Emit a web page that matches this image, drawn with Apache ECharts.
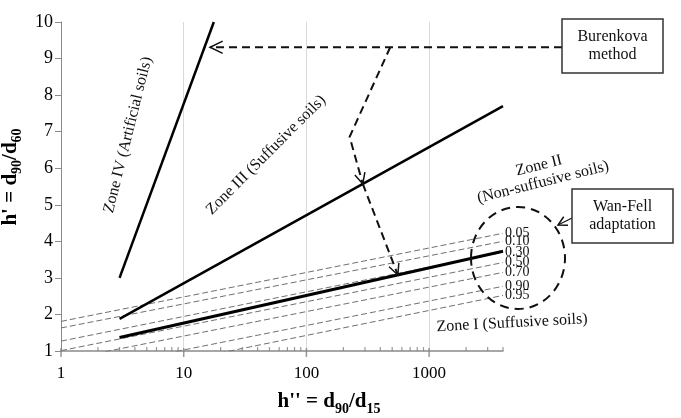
<!DOCTYPE html>
<html>
<head>
<meta charset="utf-8">
<script src="https://cdn.jsdelivr.net/npm/echarts@6/dist/echarts.min.js"></script>
<style>
  html, body { margin: 0; padding: 0; background: #fff; }
  #chart { width: 681px; height: 418px; }
</style>
</head>
<body>
<div id="chart"></div>
<script>
// h'' = d90/d15 on a log axis, h' = d90/d60 on a linear one
const xMin = 1, xMax = 4000;
const majorTicks = [1, 10, 100, 1000];
const minorSteps = [2, 3, 4, 5, 6, 7, 8, 9];
const gridX = [10, 100, 1000];

// zone boundaries (solid)
const zone4X = [3, 17.6];
const zone4Y = [3.0, 10.0];
const zone3X = [3, 4000];
const zone3Y = [1.88, 7.7];
const zone2X = [3, 4000];
const zone2Y = [1.37, 3.73];

// Wan-Fell probability lines (dashed), values at x = 1 and x = 4000
const wfNames = ['0.05', '0.10', '0.30', '0.50', '0.70', '0.90', '0.95'];
const wfStart = [1.81, 1.63, 1.27, 1.01, 0.74, 0.36, 0.06];
const wfEnd = [4.22, 4.00, 3.70, 3.42, 3.15, 2.77, 2.52];

const serif = '"Liberation Serif", "Times New Roman", serif';
const chart = echarts.init(document.getElementById('chart'));

let minorTicks = [];
majorTicks.forEach(function (d) {
  minorSteps.forEach(function (m) {
    if (d * m <= xMax) minorTicks.push(d * m);
  });
});

let series = [];
wfNames.forEach(function (n, i) {
  series.push({
    name: n,
    type: 'line',
    symbol: 'none',
    silent: true,
    z: 2,
    data: [[xMin, wfStart[i]], [xMax, wfEnd[i]]],
    lineStyle: { color: '#707070', width: 1, type: [6, 3] },
    endLabel: {
      show: true,
      formatter: '{a}',
      distance: 2,
      fontFamily: serif,
      fontSize: 14,
      color: '#111'
    }
  });
});
series[0].markLine = {
  silent: true,
  z: 1,
  symbol: ['none', 'none'],
  label: { show: false },
  lineStyle: { color: '#d9d9d9', width: 1, type: 'solid' },
  data: gridX.map(function (v) { return { xAxis: v }; })
};
[[zone4X, zone4Y, 2.5], [zone3X, zone3Y, 2.5], [zone2X, zone2Y, 3]].forEach(function (z) {
  series.push({
    type: 'line',
    symbol: 'none',
    silent: true,
    z: 4,
    data: z[0].map(function (x, i) { return [x, z[1][i]]; }),
    lineStyle: { color: '#000', width: z[2] }
  });
});
// axis ticks (major outside-crossing, minor inside)
series.push({
  type: 'scatter', silent: true, clip: false, z: 5,
  data: majorTicks.map(function (v) { return [v, 1]; }),
  symbol: 'rect', symbolSize: [1.5, 9], symbolOffset: [0, 1.5],
  itemStyle: { color: '#808080' }
});
series.push({
  type: 'scatter', silent: true, clip: false, z: 5,
  data: minorTicks.map(function (v) { return [v, 1]; }),
  symbol: 'rect', symbolSize: [1.2, 4], symbolOffset: [0, -2],
  itemStyle: { color: '#808080' }
});

chart.setOption({
  animation: false,
  backgroundColor: '#fff',
  grid: { left: 61, right: 178, top: 22, bottom: 67, containLabel: false, outerBoundsMode: 'none' },
  xAxis: {
    type: 'log',
    logBase: 10,
    min: xMin,
    max: xMax,
    name: "h'' = d{s|90}/d{s|15}",
    nameLocation: 'middle',
    nameGap: 37,
    nameTextStyle: {
      fontFamily: serif, fontWeight: 'bold', fontSize: 21, color: '#000',
      padding: [0, 0, 0, 94],
      rich: { s: { fontFamily: serif, fontWeight: 'bold', fontSize: 14, color: '#000', verticalAlign: 'bottom', lineHeight: 28 } }
    },
    axisLine: { lineStyle: { color: '#8a8a8a', width: 1.5 } },
    axisTick: { show: false },
    splitLine: { show: false },
    axisLabel: {
      margin: 14,
      fontFamily: serif, fontSize: 17, color: '#000',
      formatter: function (v) {
        const r = Math.round(v);
        return majorTicks.indexOf(r) >= 0 ? String(r) : '';
      }
    }
  },
  yAxis: {
    type: 'value',
    min: 1,
    max: 10,
    interval: 1,
    name: "h' = d{s|90}/d{s|60}",
    nameLocation: 'middle',
    nameRotate: 90,
    nameGap: 26,
    nameTextStyle: {
      fontFamily: serif, fontWeight: 'bold', fontSize: 21, color: '#000',
      padding: [0, 0, 0, 19],
      rich: { s: { fontFamily: serif, fontWeight: 'bold', fontSize: 14, color: '#000', verticalAlign: 'bottom', lineHeight: 28 } }
    },
    axisLine: { show: true, lineStyle: { color: '#8a8a8a', width: 1 } },
    axisTick: { show: true, length: 6, lineStyle: { color: '#8a8a8a' } },
    splitLine: { show: false },
    axisLabel: { margin: 8, fontFamily: serif, fontSize: 18, color: '#000' }
  },
  series: series
});

// annotations
function px(x, y) { return chart.convertToPixel({ gridIndex: 0 }, [x, y]); }
function head(tip, from, len, ang) {
  const dx = from[0] - tip[0], dy = from[1] - tip[1];
  const d = Math.hypot(dx, dy), ux = dx / d, uy = dy / d;
  const c = Math.cos(ang), s = Math.sin(ang);
  return {
    type: 'polyline', silent: true, z: 10,
    shape: { points: [
      [tip[0] + len * (ux * c - uy * s), tip[1] + len * (ux * s + uy * c)],
      tip,
      [tip[0] + len * (ux * c + uy * s), tip[1] + len * (-ux * s + uy * c)]
    ] },
    style: { stroke: '#111', lineWidth: 1.5, fill: null }
  };
}
function dashed(points, w) {
  return { type: 'polyline', silent: true, z: 10, shape: { points: points },
    style: { stroke: '#111', lineWidth: w || 2, lineDash: [8, 5], fill: null } };
}
function label(text, x, y, deg, size) {
  return { type: 'text', silent: true, z: 11, x: x, y: y, rotation: deg * Math.PI / 180,
    style: { text: text, fontFamily: serif, fontSize: size || 16, fill: '#111',
      align: 'center', verticalAlign: 'middle', lineHeight: 17 } };
}
function box(x, y, w, h, text) {
  return [
    { type: 'rect', silent: true, z: 10, shape: { x: x, y: y, width: w, height: h },
      style: { fill: '#fff', stroke: '#333', lineWidth: 1.5 } },
    { type: 'text', silent: true, z: 11, x: x + w / 2, y: y + h / 2,
      style: { text: text, fontFamily: serif, fontSize: 16, fill: '#111',
        align: 'center', verticalAlign: 'middle', lineHeight: 18 } }
  ];
}

const bkY = 9.31;
const tipIV = px(16.4, bkY);
const turn0 = px(482, bkY);
const turn1 = px(225, 6.86);
const tipIII = px(288, 5.57);
const tipII = px(556, 3.08);
const bkBoxLeft = [562, tipIV[1]];
const wfTip = [558, 225];
const wfFrom = [572, 218];

let g = [];
g.push(dashed([bkBoxLeft, tipIV]));
g.push(head(tipIV, bkBoxLeft, 14, 0.45));
g.push(dashed([turn0, turn1, tipIII]));
g.push(head(tipIII, turn1, 12, 0.45));
g.push(dashed([tipIII, tipII]));
g.push(head(tipII, tipIII, 12, 0.45));
g.push({ type: 'ellipse', silent: true, z: 9, shape: { cx: 518, cy: 258, rx: 47, ry: 51 },
  style: { fill: null, stroke: '#111', lineWidth: 2, lineDash: [9, 6] } });
g.push({ type: 'line', silent: true, z: 10, shape: { x1: wfFrom[0], y1: wfFrom[1], x2: wfTip[0], y2: wfTip[1] },
  style: { stroke: '#111', lineWidth: 1.2 } });
g.push(head(wfTip, wfFrom, 10, 0.5));
g = g.concat(box(562, 19, 101, 54, 'Burenkova\nmethod'));
g = g.concat(box(572, 189, 101, 54, 'Wan-Fell\nadaptation'));
g.push(label('Zone IV (Artificial soils)', 128, 135, 76));
g.push(label('Zone III (Suffusive soils)', 266, 155, 45));
g.push(label('Zone II\n(Non-suffusive soils)', 541, 174, 14));
g.push(label('Zone I (Suffusive soils)', 512, 323, 3));

chart.setOption({ graphic: { elements: g } });
</script>
</body>
</html>
